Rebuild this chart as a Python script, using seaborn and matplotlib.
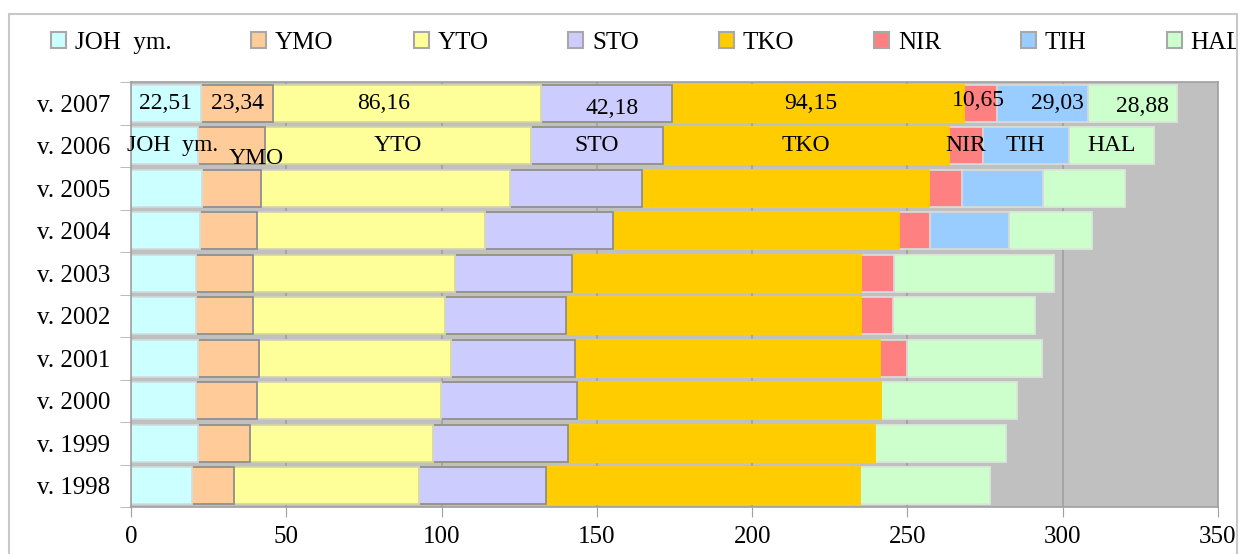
import numpy as np
import pandas as pd
import seaborn as sns
import matplotlib.pyplot as plt
from matplotlib.patches import Rectangle
from matplotlib.transforms import Bbox, TransformedBbox

years = ["v. 2007", "v. 2006", "v. 2005", "v. 2004", "v. 2003",
         "v. 2002", "v. 2001", "v. 2000", "v. 1999", "v. 1998"]
series = ["JOH  ym.", "YMO", "YTO", "STO", "TKO", "NIR", "TIH", "HAL"]

joh = [22.51, 21.6, 22.9, 22.3, 21.0, 21.0, 21.6, 21.0, 21.6, 19.7]
ymo = [23.34, 21.6, 19.0, 18.3, 18.4, 18.4, 19.7, 19.6, 16.8, 13.5]
yto = [86.16, 85.5, 80.0, 73.3, 64.8, 61.6, 61.6, 59.1, 59.0, 59.4]
sto = [42.18, 42.6, 42.6, 41.3, 37.7, 39.0, 40.0, 43.8, 43.2, 40.9]
tko = [94.15, 92.2, 92.6, 92.2, 93.3, 95.2, 98.4, 98.1, 98.8, 101.3]
nir = [10.65, 10.7, 10.6, 10.0, 10.6, 10.0, 8.7, 0, 0, 0]
tih = [29.03, 27.7, 25.8, 25.2, 0, 0, 0, 0, 0, 0]
hal = [28.88, 27.5, 26.5, 26.8, 51.3, 45.8, 43.2, 43.6, 42.2, 41.7]

colors = ["#CCFFFF", "#FFCC99", "#FFFF99", "#CCCCFF", "#FFCC00", "#FF8080", "#99CCFF", "#CCFFCC"]
edges = ["#d0dede", "#8f8f8f", "#d6d6b0", "#8f8f8f", "#FFCC00", "#d8d8d8", "#d8d8d8", "#d8e8d8"]

df = pd.DataFrame(dict(zip(series, [joh, ymo, yto, sto, tko, nir, tih, hal])), index=years)
cum = df.cumsum(axis=1)

plt.rcParams['font.family'] = ['Liberation Serif', 'DejaVu Serif']

fig = plt.figure(figsize=(12.42, 5.54), dpi=100)
ax = fig.add_axes([131 / 1242, 1 - 507 / 554, 1087 / 1242, 425 / 554])
ax.set_facecolor("#C0C0C0")

# stacked bars: draw cumulative totals from the largest down
for i in range(len(series) - 1, -1, -1):
    s = series[i]
    sns.barplot(x=cum[s].values, y=years, orient="h", ax=ax, color=colors[i],
                saturation=1, width=0.86, edgecolor=edges[i], linewidth=1.3,
                label=s)

# data labels: first row values, second row series names
fmt = lambda v: f"{v:.2f}".replace(".", ",")
offsets = {(0, 2): (-17, 0), (0, 3): (4, -4), (0, 4): (-5, 0), (0, 5): (-2, 2),
           (0, 6): (11, 0), (0, 7): (7, -2), (1, 1): (18, -9), (1, 0): (6, 0)}
for r in range(2):
    for i, s in enumerate(series):
        v = df.iloc[r, i]
        mid = cum.iloc[r, i] - v / 2
        txt = fmt(v) if r == 0 else s
        dx, dy = offsets.get((r, i), (0, 0))
        ax.annotate(txt, (mid, r), xytext=(dx, dy), textcoords="offset points",
                    ha="center", va="center", fontsize=17, color="black")

ax.set_xlim(0, 350)
ax.set_ylim(len(years) - 0.5, -0.5)
ax.set_xticks(np.arange(0, 351, 50))
ax.xaxis.grid(True, color="#a0a0a0", linewidth=1.2)
ax.set_axisbelow(True)
ax.set_xlabel("")
ax.set_ylabel("")
ax.tick_params(axis="x", length=7, color="#a0a0a0", labelsize=18, pad=7)
ax.tick_params(axis="y", which="major", length=0, labelsize=18, pad=15)
ax.set_yticks(np.arange(-0.5, len(years), 1), minor=True)
ax.tick_params(axis="y", which="minor", length=8, color="#b0b0b0")
for sp in ax.spines.values():
    sp.set_color("#a0a0a0")
    sp.set_linewidth(1.2)

handles, labels = ax.get_legend_handles_labels()
if ax.get_legend() is not None:
    ax.get_legend().remove()
order = [labels.index(s) for s in series]
leg = fig.legend([handles[k] for k in order], series, loc="center left",
                 bbox_to_anchor=(41 / 1242, 1 - 43 / 554), ncol=8, frameon=False,
                 fontsize=18, handlelength=0.6, handleheight=0.6,
                 handletextpad=0.35, columnspacing=3.2, borderaxespad=0)
for h in leg.legend_handles:
    h.set_edgecolor("#a8a8a8")
    h.set_linewidth(1.5)

# outer chart border; legend text is clipped by it like in the original
clip = TransformedBbox(Bbox([[0, 0], [1236 / 1242, 1]]), fig.transFigure)
for t in leg.get_texts():
    t.set_clip_box(clip)
    t.set_clip_on(True)
fig.patches.append(Rectangle((9 / 1242, -0.05), 1228 / 1242, 1.05 - 14 / 554,
                             transform=fig.transFigure, fill=False,
                             edgecolor="#c8c8c8", linewidth=1.5))

fig.savefig("out.png", dpi=100)
